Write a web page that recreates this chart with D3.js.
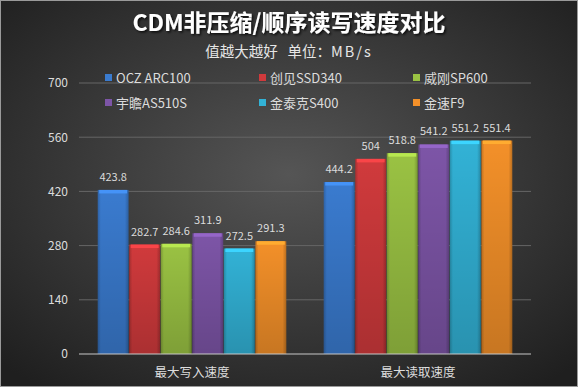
<!DOCTYPE html>
<html lang="zh">
  <head>
    <meta charset="utf-8">
    <title>CDM非压缩/顺序读写速度对比</title>
    <style>
      html, body {
        margin: 0;
        padding: 0;
        background: #2a2a2a;
      }
      svg text {
        font-family: "Noto Sans CJK SC", "Noto Sans", sans-serif;
      }
      .title {
        font-weight: bold;
        font-size: 23px;
        fill: #fff;
      }
      .subtitle {
        font-size: 14.5px;
        fill: #e6e6e6;
      }
      .legend text, .value, .cat, .axis-y text {
        fill: #dcdcdc;
      }
    </style>
  </head>

  <body>
    <svg id="wrapper" width="578" height="387"></svg>

    <script src="https://cdnjs.cloudflare.com/ajax/libs/d3/7.8.5/d3.min.js"></script>
    <script>
    const categories = ['最大写入速度', '最大读取速度'];
    const drives = ['OCZ ARC100', '创见SSD340', '威刚SP600', '宇瞻AS510S', '金泰克S400', '金速F9'];
    const writeSpeed = [423.8, 282.7, 284.6, 311.9, 272.5, 291.3];
    const readSpeed = [444.2, 504, 518.8, 541.2, 551.2, 551.4];
    const yTicks = [0, 140, 280, 420, 560, 700];

    const colors = ['#3a7bcf', '#d03a3c', '#9ac243', '#7d55a7', '#32b2d6', '#f39029'];

    const margin = {top: 83, left: 79, right: 47, bottom: 33};
    const W = 578, H = 387;
    const width = W - margin.left - margin.right;
    const height = H - margin.top - margin.bottom;

    const svg = d3.select('#wrapper');
    const defs = svg.append('defs');

    // background
    const bg = defs.append('radialGradient')
      .attr('id', 'bg').attr('cx', '50%').attr('cy', '45%').attr('r', '70%');
    bg.append('stop').attr('offset', '0%').attr('stop-color', '#555');
    bg.append('stop').attr('offset', '100%').attr('stop-color', '#1f1f1f');
    svg.append('rect').attr('width', W).attr('height', H).attr('fill', 'url(#bg)');
    svg.append('rect').attr('x', 0.5).attr('y', 0.5).attr('width', W - 1).attr('height', H - 1)
      .attr('fill', 'none').attr('stroke', '#9a9a9a').attr('stroke-width', 1);

    // bar gradients (bevelled look)
    colors.forEach(function(c, i) {
      const g = defs.append('linearGradient').attr('id', 'bar' + i)
        .attr('x1', '0%').attr('x2', '100%').attr('y1', '0%').attr('y2', '0%');
      const base = d3.color(c);
      g.append('stop').attr('offset', '0%').attr('stop-color', base.darker(0.6));
      g.append('stop').attr('offset', '10%').attr('stop-color', base);
      g.append('stop').attr('offset', '88%').attr('stop-color', base);
      g.append('stop').attr('offset', '100%').attr('stop-color', base.darker(0.7));
      const v = defs.append('linearGradient').attr('id', 'shade' + i)
        .attr('x1', '0%').attr('x2', '0%').attr('y1', '0%').attr('y2', '100%');
      v.append('stop').attr('offset', '0%').attr('stop-color', '#000').attr('stop-opacity', 0);
      v.append('stop').attr('offset', '100%').attr('stop-color', '#000').attr('stop-opacity', 0.18);
    });

    const shadow = defs.append('filter').attr('id', 'tshadow')
      .attr('x', '-10%').attr('y', '-30%').attr('width', '120%').attr('height', '160%');
    shadow.append('feDropShadow').attr('dx', 1.5).attr('dy', 1.5)
      .attr('stdDeviation', 1).attr('flood-color', '#000').attr('flood-opacity', 0.8);

    // titles
    svg.append('text').attr('class', 'title')
      .attr('x', 289).attr('y', 31).attr('text-anchor', 'middle')
      .attr('filter', 'url(#tshadow)')
      .text('CDM非压缩/顺序读写速度对比');
    const sub = svg.append('text').attr('class', 'subtitle')
      .attr('x', 289).attr('y', 57).attr('text-anchor', 'middle')
      .attr('xml:space', 'preserve');
    sub.append('tspan').text('值越大越好   单位：');
    sub.append('tspan').attr('letter-spacing', 2).text('MB/s');

    const g = svg.append('g')
      .attr('transform', 'translate(' + margin.left + ',' + margin.top + ')');

    const x0 = d3.scaleBand().domain(categories).range([0, width])
      .paddingInner(0.16).paddingOuter(0.08);
    const x1 = d3.scaleBand().domain(drives).range([0, x0.bandwidth()]).padding(0.02);
    const y = d3.scaleLinear().domain([0, 700]).range([height, 0]);

    // gridlines
    g.append('g').selectAll('line').data(yTicks.slice(1)).join('line')
      .attr('x1', 0).attr('x2', width)
      .attr('y1', d => y(d)).attr('y2', d => y(d))
      .attr('stroke', '#666').attr('stroke-width', 1);

    // y axis
    const yAxis = g.append('g').attr('class', 'axis-y')
      .call(d3.axisLeft(y).tickValues(yTicks).tickSize(0).tickPadding(11));
    yAxis.select('.domain').remove();
    yAxis.selectAll('text').attr('font-size', 12);

    const rows = categories.map(function(c, ci) {
      const vals = ci === 0 ? writeSpeed : readSpeed;
      return {cat: c, values: drives.map((d, i) => ({drive: d, i: i, v: vals[i]}))};
    });

    const groups = g.selectAll('.grp').data(rows).join('g')
      .attr('class', 'grp')
      .attr('transform', d => 'translate(' + x0(d.cat) + ',0)');

    const bars = groups.selectAll('.bar').data(d => d.values).join('g').attr('class', 'bar');
    bars.append('rect')
      .attr('x', d => x1(d.drive)).attr('width', x1.bandwidth())
      .attr('y', d => y(d.v)).attr('height', d => y(0) - y(d.v))
      .attr('fill', d => 'url(#bar' + d.i + ')');
    bars.append('rect')
      .attr('x', d => x1(d.drive)).attr('width', x1.bandwidth())
      .attr('y', d => y(d.v)).attr('height', d => y(0) - y(d.v))
      .attr('fill', d => 'url(#shade' + d.i + ')');
    // top cap
    bars.append('rect')
      .attr('x', d => x1(d.drive) + 1.5).attr('width', x1.bandwidth() - 3)
      .attr('y', d => y(d.v)).attr('height', 3.5)
      .attr('fill', d => d3.color(colors[d.i]).brighter(0.5));

    bars.append('text').attr('class', 'value')
      .attr('x', d => x1(d.drive) + x1.bandwidth() / 2)
      .attr('y', d => y(d.v) - 9)
      .attr('text-anchor', 'middle')
      .attr('font-size', 11)
      .text(d => d.v);

    // zero axis
    g.append('line').attr('x1', 0).attr('x2', width)
      .attr('y1', y(0)).attr('y2', y(0))
      .attr('stroke', '#c8c8c8').attr('stroke-width', 1.2);

    // category labels
    g.selectAll('.cat').data(categories).join('text').attr('class', 'cat')
      .attr('x', d => x0(d) + x0.bandwidth() / 2)
      .attr('y', height + 23)
      .attr('text-anchor', 'middle')
      .attr('font-size', 12.5)
      .text(d => d);

    // legend
    const legend = svg.append('g').attr('class', 'legend');
    const items = legend.selectAll('g').data(drives).join('g')
      .attr('transform', (d, i) => 'translate(' + (105 + (i % 3) * 154) + ',' + (78 + Math.floor(i / 3) * 25) + ')');
    items.append('rect').attr('x', 0).attr('y', -4).attr('width', 7).attr('height', 7)
      .attr('fill', (d, i) => colors[i]);
    items.append('text').attr('x', 11).attr('y', 0).attr('dy', '0.35em')
      .attr('font-size', 13)
      .text(d => d);
    </script>
  </body>
</html>
